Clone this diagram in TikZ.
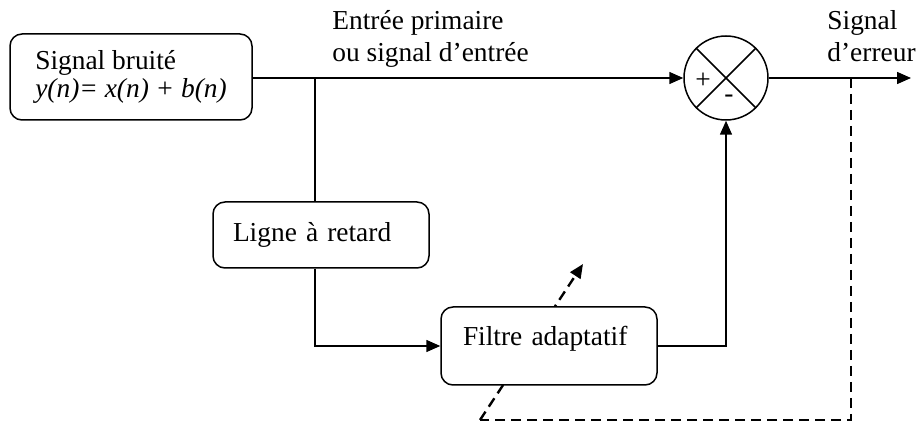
\documentclass[tikz,border=0pt]{standalone}
\usepackage{fontspec}
\setmainfont{Liberation Serif}
\usepackage{tikz}
\usetikzlibrary{arrows.meta,positioning,calc}

\begin{document}
\begin{tikzpicture}[x=0.5pt,y=-0.5pt,
  every node/.style={font=\fontsize{13.7pt}{16pt}\selectfont},
  blk/.style={draw,line width=0.75pt,rounded corners=6pt,fill=white,align=left},
  sig/.style={line width=0.75pt,-{Triangle[length=7pt,width=6pt]}},
  fb/.style={line width=1.2pt,dash pattern=on 5pt off 3pt}]
\useasboundingbox (0,0) rectangle (916,432);

% Blocs
\node[blk,minimum width=121pt,minimum height=43pt,font=\fontsize{13.7pt}{14pt}\selectfont] (sb) at (131,77)
  {Signal bruité\\\textit{y(n)= x(n) + b(n)}};
\node[blk,minimum width=108pt,minimum height=33pt,inner xsep=10pt,text width=88pt] (lr) at (321,235)
  {Ligne à retard};
\node[circle,draw,line width=0.75pt,minimum size=42pt,inner sep=0pt] (sum) at (726,78) {};
\draw[line width=0.75pt] (sum.north west) -- (sum.south east);
\draw[line width=0.75pt] (sum.north east) -- (sum.south west);
\node[inner sep=0pt] (plus) at (703,81) {+};
\node[inner sep=0pt] (minus) at (729,99) {-};

% Textes
\node[anchor=base west,align=left,inner sep=0pt] (entree) at (332,62) {Entrée primaire\\ou signal d’entrée};
\node[anchor=base west,align=left,inner sep=0pt] (erreur) at (827,62) {Signal\\d’erreur};

% Points
\coordinate (split) at (315,78);
\coordinate (tap) at (851,78);
\coordinate (out) at (911,78);
\coordinate (c1) at (851,420);
\coordinate (c2) at (480,420);
\coordinate (tip) at (583,264);

% Adaptation (en pointille)
\draw[fb] (tap) -- (c1) -- (c2);
\draw[fb,-{Triangle[length=7pt,width=6pt]}] (c2) -- (tip);

\node[blk,minimum width=108pt,minimum height=39pt,inner xsep=11pt,text width=86pt,text depth=10pt] (fa) at (549,346)
  {Filtre adaptatif};

% Liaisons
\draw[sig] (sb.east |- sum.west) -- (sum.west);
\draw[line width=0.75pt] (split) -- (split |- lr.north);
\draw[sig] (lr.south -| split) |- (fa.west);
\draw[sig] (fa.east) -| (sum.south);
\draw[sig] (sum.east) -- (out);
\end{tikzpicture}
\end{document}
